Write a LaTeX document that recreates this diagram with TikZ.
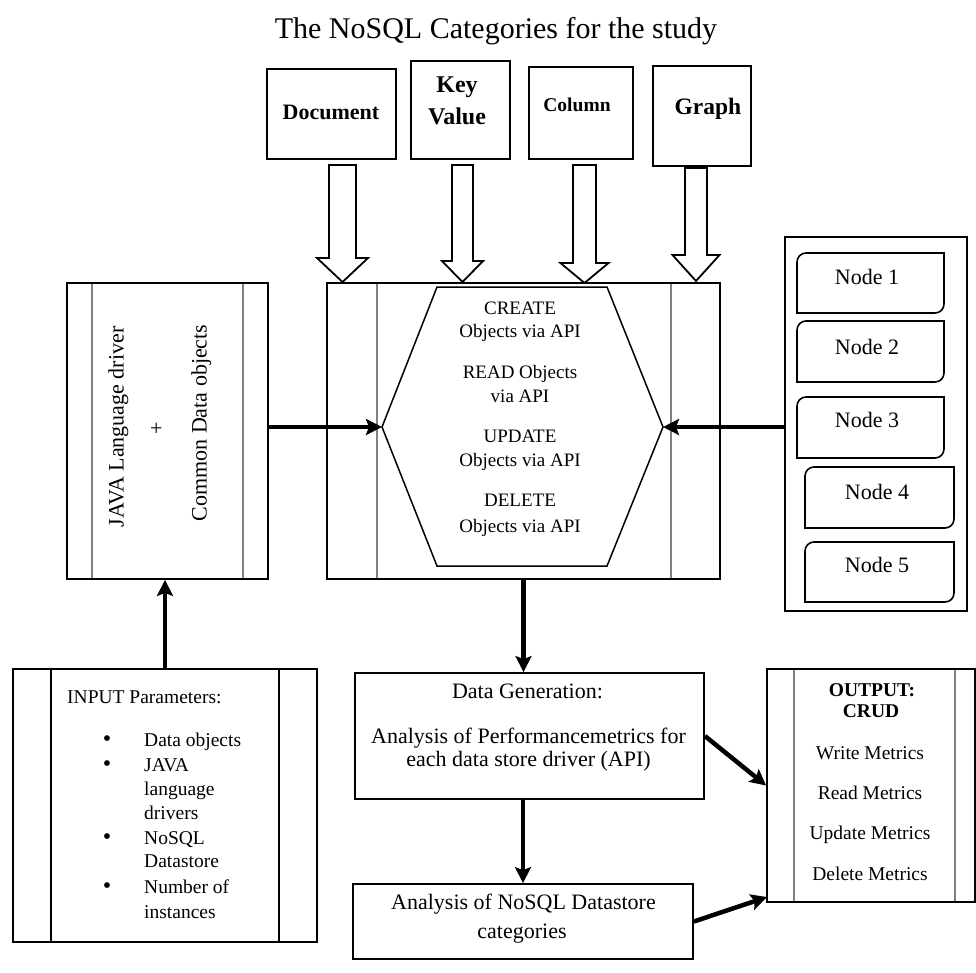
\documentclass[tikz,border=0pt]{standalone}
\usepackage{fontspec}
\setmainfont{Liberation Serif}
\usetikzlibrary{arrows.meta}

% hollow block arrow: centre x, top y, shaft half width, head half width, head start y, tip y
\newcommand{\catarrow}[6]{%
  \draw[blk] (#1-#3,#2) -- (#1+#3,#2) -- (#1+#3,#5) -- (#1+#4,#5) -- (#1,#6)
    -- (#1-#4,#5) -- (#1-#3,#5) -- cycle;}
% server box with rounded top-left and bottom-right corners: x1, x2, top y, bottom y
\newcommand{\srvbox}[4]{%
  \draw[line width=1.6pt] (#1,#3-9) arc[start angle=180,end angle=90,radius=9]
    -- (#2,#3) -- (#2,#4+9) arc[start angle=0,end angle=-90,radius=9]
    -- (#1,#4) -- cycle;}

\begin{document}
\begin{tikzpicture}[x=1pt,y=1pt,
  box/.style={draw=black, line width=1.8pt, inner sep=0pt},
  rib/.style={draw=black!50, line width=2.6pt},
  ribk/.style={draw=black, line width=1.8pt},
  lbl/.style={inner sep=0pt, text height=15pt, text depth=2pt},
  conn/.style={draw=black, line width=4.5pt, -{Stealth[length=16pt,width=16pt,inset=3pt]}},
  blk/.style={draw=black, line width=1.8pt, fill=white, line join=miter},
  catf/.style={font=\bfseries\fontsize{#1}{#1}\selectfont},
  hexf/.style={lbl, font=\fontsize{19}{23}\selectfont},
  srvf/.style={lbl, font=\fontsize{22}{26}\selectfont},
  bigf/.style={lbl, font=\fontsize{22}{26}\selectfont},
  smf/.style={lbl, font=\fontsize{19.5}{23}\selectfont},
]
\useasboundingbox (0,0) rectangle (976,-972);
\fill[white] (0,0) rectangle (976,-972);

% title
\node[lbl, font=\fontsize{30}{36}\selectfont] (title) at (496,-31.5) {The NoSQL Categories for the study};

% NoSQL category boxes
\node[box, minimum width=129pt, minimum height=90pt] (doc) at (331.5,-114) {};
\node[box, minimum width=99pt, minimum height=98pt] (kv) at (460.5,-110) {};
\node[box, minimum width=104pt, minimum height=92pt] (col) at (581,-113) {};
\node[box, minimum width=98pt, minimum height=100pt] (gra) at (702,-116) {};
\node[lbl, catf=22] (doct) at (331,-113) {Document};
\node[catf=24, align=center, inner sep=0pt] (kvt) at (457,-101) {Key\\[8pt]Value};
\node[lbl, catf=19.5] (colt) at (577,-105) {Column};
\node[lbl, catf=23.5] (grat) at (708,-108) {Graph};

% hollow arrows into the CRUD block
\catarrow{342.5}{-165}{13.5}{25.5}{-258}{-282}
\catarrow{462.5}{-165}{10.5}{20.5}{-261}{-282}
\catarrow{584.5}{-165}{11.5}{24}{-263}{-283}
\catarrow{696}{-168}{11}{23.5}{-255}{-281}

% central CRUD block
\node[box, minimum width=393pt, minimum height=296pt] (core) at (523.5,-431) {};
\draw[rib] (377,-284) -- (377,-578);
\draw[rib] (671,-284) -- (671,-578);
\draw[line width=1.5pt, line join=miter] (437,-287) -- (607,-287) -- (663,-427) -- (607,-566)
  -- (437,-566) -- (382,-427) -- cycle;
\coordinate (hexL) at (382,-427);
\coordinate (hexR) at (663,-427);
\node[hexf] (c1) at (520,-308) {CREATE};
\node[hexf] (c2) at (520,-331) {Objects via API};
\node[hexf] (r1) at (520,-372) {READ Objects};
\node[hexf] (r2) at (520,-396) {via API};
\node[hexf] (u1) at (520,-436) {UPDATE};
\node[hexf] (u2) at (520,-460) {Objects via API};
\node[hexf] (d1) at (520,-500) {DELETE};
\node[hexf] (d2) at (520,-526) {Objects via API};

% language driver block
\node[box, minimum width=201pt, minimum height=296pt] (java) at (167.5,-431) {};
\draw[rib] (92,-284) -- (92,-578);
\draw[rib] (243,-284) -- (243,-578);
\node[bigf, rotate=90] (j1) at (117,-427) {JAVA Language driver};
\node[bigf, rotate=90] (j2) at (157,-428) {+};
\node[bigf, rotate=90] (j3) at (200,-423) {Common Data objects};

% cluster nodes
\node[box, minimum width=182pt, minimum height=374pt] (pool) at (876,-424) {};
\srvbox{797}{944}{-253}{-313}
\srvbox{797}{944}{-321}{-382}
\srvbox{797}{944}{-397}{-458}
\srvbox{805}{954}{-467}{-528}
\srvbox{805}{954}{-542}{-602}
\node[srvf] (n1) at (867,-278) {Node 1};
\node[srvf] (n2) at (867,-348) {Node 2};
\node[srvf] (n3) at (867,-421) {Node 3};
\node[srvf] (n4) at (877,-493) {Node 4};
\node[srvf] (n5) at (877,-566) {Node 5};

% input parameters
\node[box, minimum width=304pt, minimum height=273pt] (inp) at (165,-805.5) {};
\draw[ribk] (51,-669) -- (51,-942);
\draw[ribk] (279,-669) -- (279,-942);
\node[smf, anchor=west] (ih) at (67,-697) {INPUT Parameters:};
\foreach \yy in {740,765,838,887} \node[smf, font=\fontsize{24}{24}\selectfont] at (107,-\yy) {•};
\node[smf, anchor=west] (i1) at (144,-740) {Data objects};
\node[smf, anchor=west] (i2) at (144,-765) {JAVA};
\node[smf, anchor=west] (i3) at (144,-789) {language};
\node[smf, anchor=west] (i4) at (144,-813) {drivers};
\node[smf, anchor=west] (i5) at (144,-838) {NoSQL};
\node[smf, anchor=west] (i6) at (144,-861) {Datastore};
\node[smf, anchor=west] (i7) at (144,-887) {Number of};
\node[smf, anchor=west] (i8) at (144,-912) {instances};

% data generation
\node[box, minimum width=349pt, minimum height=126pt] (gen) at (529.5,-736) {};
\node[bigf] (g1) at (527.5,-692) {Data Generation:};
\node[bigf] (g2) at (528.5,-737) {Analysis of Performancemetrics for};
\node[bigf] (g3) at (528.5,-760) {each data store driver (API)};

% category analysis
\node[box, minimum width=340pt, minimum height=75pt] (ana) at (523,-921.5) {};
\node[bigf] (a1) at (523.5,-903) {Analysis of NoSQL Datastore};
\node[bigf] (a2) at (522,-932) {categories};

% output metrics
\node[box, minimum width=208pt, minimum height=233pt] (outb) at (871,-785.5) {};
\draw[rib] (794,-670) -- (794,-901);
\draw[rib] (955,-670) -- (955,-901);
\node[lbl, font=\bfseries\fontsize{19.5}{23}\selectfont] (o1) at (872,-690) {OUTPUT:};
\node[lbl, font=\bfseries\fontsize{19.5}{23}\selectfont] (o2) at (871,-711) {CRUD};
\node[smf] (o3) at (870,-753) {Write Metrics};
\node[smf] (o4) at (870,-793) {Read Metrics};
\node[smf] (o5) at (870,-833) {Update Metrics};
\node[smf] (o6) at (870,-874) {Delete Metrics};
\coordinate (outLow) at (767,-897);

% connectors
\draw[conn] (java.east |- hexL) -- (hexL);
\draw[conn] (pool.west |- hexR) -- (hexR);
\draw[conn] (inp.north) -- (inp.north |- java.south);
\draw[conn] (core.south) -- (core.south |- gen.north);
\draw[conn] (ana.north |- gen.south) -- (ana.north);
\draw[conn] (gen.east) -- (outb.west);
\draw[conn] (ana.east) -- (outLow);
\end{tikzpicture}
\end{document}
